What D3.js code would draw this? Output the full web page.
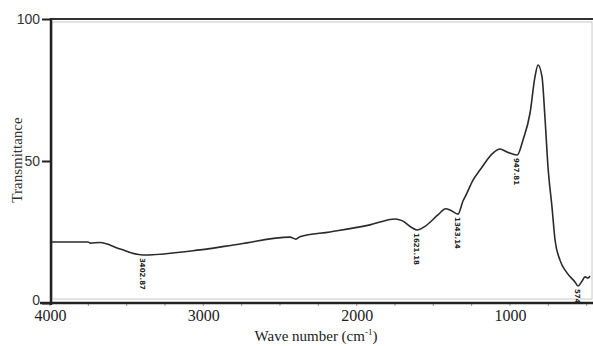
<!DOCTYPE html>
<html>
<head>
<meta charset="utf-8">
<script src="https://cdn.jsdelivr.net/npm/d3@7"></script>
<style>
  body { margin: 0; background: #fff; }
  svg { display: block; }
</style>
</head>
<body>
<div class="chart"></div>
<script>
// FTIR spectrum, values
let wavenumber = [3993, 3752, 3739, 3674, 3543, 3393, 3022, 2761, 2435, 2396, 2370, 2174, 1913, 1750, 1704,
  1639, 1606, 1554, 1470, 1420, 1385, 1339, 1306, 1287, 1241, 1196, 1111, 1065, 1019, 953, 915, 869, 837,
  817, 791, 772, 752, 726, 706, 674, 628, 576, 556, 530, 511, 491, 478];
let transmittance = [21.5, 21.5, 21.1, 21.3, 19.0, 16.9, 18.7, 20.8, 23.2, 22.5, 23.3, 25.0, 27.5, 29.6, 29.0,
  26.5, 25.7, 27.0, 31.0, 33.2, 32.6, 31.3, 36.0, 38.0, 43.3, 46.8, 52.8, 54.2, 53.2, 52.1, 57.4, 66.9, 79.6,
  83.8, 79.6, 65.5, 47.9, 33.8, 22.2, 15.1, 10.6, 7.4, 6.0, 7.7, 9.2, 8.8, 9.5];

let peakLabels = ["3402.87", "1621.18", "1343.14", "947.81", "574"];
let peakPos = [3393, 1606, 1339, 953, 556];
let peakVal = [16.9, 25.7, 31.3, 52.1, 6.0];

let xTicks = [4000, 3000, 2000, 1000];
let yTicks = [0, 50, 100];

let w = 593, h = 346;

let svg = d3.select(".chart").append("svg")
  .attr("width", w)
  .attr("height", h);

let x = d3.scaleLinear().domain([4000, 465]).range([50, 592]);
let y = d3.scaleLinear().domain([0, 100]).range([303, 19]);

// thin grey inner frame
svg.append("rect")
  .attr("x", 52).attr("y", 22)
  .attr("width", 540).attr("height", 277)
  .attr("fill", "none")
  .attr("stroke", "#c8c8c8")
  .attr("stroke-width", 1);

// top border
svg.append("line")
  .attr("x1", 51).attr("x2", 593)
  .attr("y1", 19).attr("y2", 19)
  .attr("stroke", "#333").attr("stroke-width", 2);

// minor ticks on x axis
let minor = d3.range(4000, 465, -250);
svg.selectAll(".minor")
  .data(minor)
  .enter()
  .append("line")
  .attr("class", "minor")
  .attr("x1", d => x(d)).attr("x2", d => x(d))
  .attr("y1", 303).attr("y2", 306)
  .attr("stroke", "#999").attr("stroke-width", 1);

// x axis
let xAxis = svg.append("g")
  .attr("transform", "translate(0,303)")
  .call(d3.axisBottom(x).tickValues(xTicks).tickSize(0).tickPadding(7).tickFormat(d3.format("d")));
xAxis.select(".domain").attr("stroke", "#222").attr("stroke-width", 2.5)
  .attr("d", "M" + 40 + ",0H" + 593);
xAxis.selectAll("text")
  .attr("font-family", "Liberation Serif, Times New Roman, serif")
  .attr("font-size", 16)
  .attr("fill", "#222");

// y axis
let yAxis = svg.append("g")
  .attr("transform", "translate(51,0)")
  .call(d3.axisLeft(y).tickValues(yTicks).tickSize(9).tickPadding(2));
yAxis.select(".domain").attr("stroke", "#222").attr("stroke-width", 2.5)
  .attr("d", "M0,18V305");
yAxis.selectAll(".tick line").attr("stroke", "#222").attr("stroke-width", 2);
yAxis.selectAll("text")
  .attr("font-family", "Liberation Sans, Arial, sans-serif")
  .attr("font-size", 14)
  .attr("fill", "#333");
// lift the "0" a little so it clears the "4000" below it
yAxis.selectAll(".tick text").filter(d => d === 0).attr("dy", "0.1em");

// spectrum line
let pts = wavenumber.map((d, i) => [d, transmittance[i]]);
let line = d3.line()
  .x(d => x(d[0]))
  .y(d => y(d[1]))
  .curve(d3.curveMonotoneX);

svg.append("path")
  .datum(pts)
  .attr("d", line)
  .attr("fill", "none")
  .attr("stroke", "#2a2a2a")
  .attr("stroke-width", 1.6);

// peak labels (rotated, under each dip)
svg.selectAll(".peak")
  .data(peakLabels)
  .enter()
  .append("text")
  .attr("class", "peak")
  .attr("transform", (d, i) => "translate(" + (x(peakPos[i]) - 3) + "," + (y(peakVal[i]) + 3) + ") rotate(90)")
  .attr("font-family", "DejaVu Sans, sans-serif")
  .attr("font-size", 7)
  .attr("font-weight", "bold")
  .attr("fill", "#222")
  .text(d => d);

// axis titles
svg.append("text")
  .attr("transform", "translate(22,160) rotate(-90)")
  .attr("text-anchor", "middle")
  .attr("font-family", "Liberation Serif, Times New Roman, serif")
  .attr("font-size", 15)
  .attr("fill", "#333")
  .text("Transmittance");

let title = svg.append("text")
  .attr("x", 316).attr("y", 341)
  .attr("text-anchor", "middle")
  .attr("font-family", "Liberation Serif, Times New Roman, serif")
  .attr("font-size", 15)
  .attr("fill", "#222");
title.append("tspan").text("Wave number (cm");
title.append("tspan").attr("font-size", 9).attr("dy", -6).text("-1");
title.append("tspan").attr("dy", 6).text(")");
</script>
</body>
</html>
